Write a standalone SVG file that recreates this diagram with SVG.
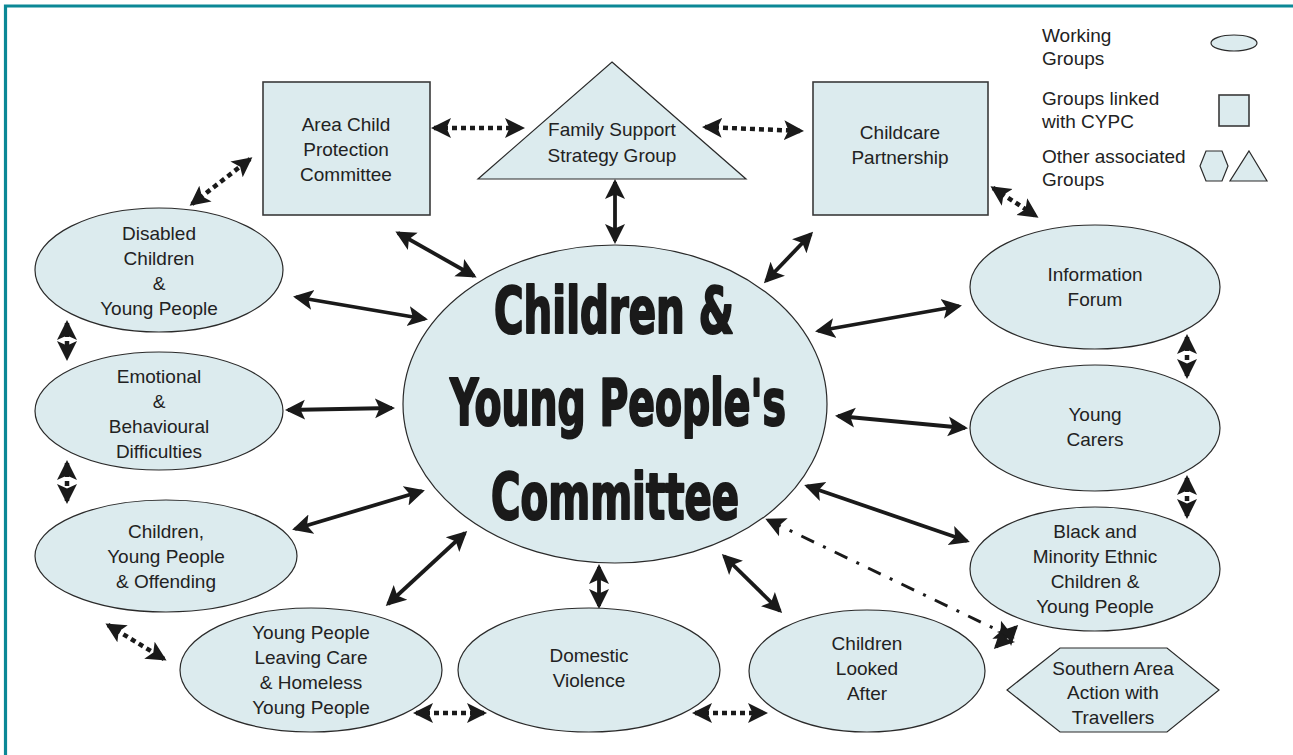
<svg xmlns="http://www.w3.org/2000/svg" width="1293" height="755" viewBox="0 0 1293 755">
  <defs>
    <style>
      .shape { fill: #dcebee; stroke: #2a2a2a; stroke-width: 1.2; }
      .box { fill: #dcebee; stroke: #3a3a3a; stroke-width: 1.6; }
      .lbl { font-family: "Liberation Sans", Arial, sans-serif; font-size: 19px; fill: #222; text-anchor: middle; dominant-baseline: central; }
      .leg { font-family: "Liberation Sans", Arial, sans-serif; font-size: 19px; fill: #222; dominant-baseline: central; }
      .title { font-family: "DejaVu Sans Condensed", "Liberation Sans Narrow", "Liberation Sans", sans-serif; font-weight: bold; font-size: 64px; fill: #1a1a1a; stroke: #1a1a1a; stroke-width: 2.2; stroke-linejoin: round; text-anchor: middle; }
      .solid { stroke: #1a1a1a; stroke-width: 3.8; fill: none; marker-start: url(#head); marker-end: url(#head); }
      .dotted { stroke: #1a1a1a; stroke-width: 4.5; stroke-dasharray: 5 4; fill: none; marker-start: url(#head); marker-end: url(#head); }
      .dashdot { stroke: #1a1a1a; stroke-width: 3; stroke-dasharray: 14 10 3 10; fill: none; marker-start: url(#head); marker-end: url(#head); }
    </style>
    <marker id="head" markerUnits="userSpaceOnUse" viewBox="0 0 21 22" markerWidth="21" markerHeight="22" refX="17" refY="11" orient="auto-start-reverse">
      <path d="M0,1 L20,11 L0,21 L4.5,11 z" fill="#1a1a1a"/>
    </marker>
  </defs>

  <!-- frame -->
  <path d="M5.5,755 V6 H1293" fill="none" stroke="#0b8896" stroke-width="3.2"/>

  <!-- connectors -->
  <g id="connectors">
    <line class="solid" x1="398" y1="233" x2="474" y2="276"/>
    <line class="solid" x1="296" y1="297" x2="425" y2="319"/>
    <line class="solid" x1="615" y1="182" x2="615" y2="241"/>
    <line class="solid" x1="811" y1="234" x2="766" y2="281"/>
    <line class="solid" x1="818" y1="331" x2="959" y2="306"/>
    <line class="solid" x1="288" y1="410" x2="392" y2="408"/>
    <line class="solid" x1="838" y1="416" x2="965" y2="428"/>
    <line class="solid" x1="295" y1="529" x2="422" y2="491"/>
    <line class="solid" x1="807" y1="486" x2="967" y2="541"/>
    <line class="solid" x1="388" y1="604" x2="465" y2="533"/>
    <line class="solid" x1="599" y1="567" x2="599" y2="606"/>
    <line class="solid" x1="724" y1="556" x2="780" y2="611"/>

    <line class="dotted" x1="434" y1="128" x2="522" y2="128"/>
    <line class="dotted" x1="705" y1="127" x2="801" y2="131"/>
    <line class="dotted" x1="192" y1="204" x2="250" y2="159"/>
    <line class="dotted" x1="993" y1="188" x2="1036" y2="216"/>
    <line class="dotted" x1="67" y1="323" x2="67" y2="358"/>
    <line class="dotted" x1="67" y1="463" x2="67" y2="501"/>
    <line class="dotted" x1="1187" y1="337" x2="1187" y2="376"/>
    <line class="dotted" x1="1187" y1="478" x2="1187" y2="516"/>
    <line class="dotted" x1="108" y1="625" x2="164" y2="659"/>
    <line class="dotted" x1="416" y1="713" x2="484" y2="713"/>
    <line class="dotted" x1="695" y1="713" x2="765" y2="713"/>

    <line class="dashdot" x1="768" y1="520" x2="1012" y2="637"/>
    <line class="solid" x1="996" y1="647" x2="1016" y2="627"/>
  </g>

  <!-- central committee -->
  <g id="cypc">
    <ellipse class="shape" cx="615" cy="404" rx="212" ry="159"/>
    <text class="title" x="614" y="333" textLength="240" lengthAdjust="spacingAndGlyphs">Children &amp;</text>
    <text class="title" x="618" y="425" textLength="336" lengthAdjust="spacingAndGlyphs">Young People's</text>
    <text class="title" x="615" y="519" textLength="248" lengthAdjust="spacingAndGlyphs">Committee</text>
  </g>

  <!-- linked groups -->
  <g id="acpc">
    <rect class="box" x="263" y="82" width="167" height="133"/>
    <text class="lbl" x="346" y="124">Area Child</text>
    <text class="lbl" x="346" y="149">Protection</text>
    <text class="lbl" x="346" y="174">Committee</text>
  </g>
  <g id="childcare">
    <rect class="box" x="813" y="82" width="175" height="133"/>
    <text class="lbl" x="900" y="132">Childcare</text>
    <text class="lbl" x="900" y="157">Partnership</text>
  </g>

  <!-- associated groups -->
  <g id="family-support">
    <polygon class="shape" points="612,62 746,179 478,179"/>
    <text class="lbl" x="612" y="129">Family Support</text>
    <text class="lbl" x="612" y="155">Strategy Group</text>
  </g>
  <g id="travellers">
    <polygon class="shape" points="1060,648 1167,648 1219,690 1167,732 1060,732 1007,690"/>
    <text class="lbl" x="1113" y="668">Southern Area</text>
    <text class="lbl" x="1113" y="692">Action with</text>
    <text class="lbl" x="1113" y="717">Travellers</text>
  </g>

  <!-- working groups -->
  <g id="disabled">
    <ellipse class="shape" cx="159" cy="270" rx="124" ry="62"/>
    <text class="lbl" x="159" y="233">Disabled</text>
    <text class="lbl" x="159" y="258">Children</text>
    <text class="lbl" x="159" y="283">&amp;</text>
    <text class="lbl" x="159" y="308">Young People</text>
  </g>
  <g id="emotional">
    <ellipse class="shape" cx="159" cy="411" rx="124" ry="59"/>
    <text class="lbl" x="159" y="376">Emotional</text>
    <text class="lbl" x="159" y="401">&amp;</text>
    <text class="lbl" x="159" y="426">Behavioural</text>
    <text class="lbl" x="159" y="451">Difficulties</text>
  </g>
  <g id="offending">
    <ellipse class="shape" cx="166" cy="556" rx="131" ry="56"/>
    <text class="lbl" x="166" y="531">Children,</text>
    <text class="lbl" x="166" y="556">Young People</text>
    <text class="lbl" x="166" y="581">&amp; Offending</text>
  </g>
  <g id="leaving-care">
    <ellipse class="shape" cx="311" cy="670" rx="131" ry="62"/>
    <text class="lbl" x="311" y="632">Young People</text>
    <text class="lbl" x="311" y="657">Leaving Care</text>
    <text class="lbl" x="311" y="682">&amp; Homeless</text>
    <text class="lbl" x="311" y="707">Young People</text>
  </g>
  <g id="domestic">
    <ellipse class="shape" cx="589" cy="670" rx="131" ry="62"/>
    <text class="lbl" x="589" y="655">Domestic</text>
    <text class="lbl" x="589" y="680">Violence</text>
  </g>
  <g id="looked-after">
    <ellipse class="shape" cx="867" cy="671" rx="118" ry="61"/>
    <text class="lbl" x="867" y="643">Children</text>
    <text class="lbl" x="867" y="668">Looked</text>
    <text class="lbl" x="867" y="693">After</text>
  </g>
  <g id="information">
    <ellipse class="shape" cx="1095" cy="287" rx="125" ry="62"/>
    <text class="lbl" x="1095" y="274">Information</text>
    <text class="lbl" x="1095" y="299">Forum</text>
  </g>
  <g id="carers">
    <ellipse class="shape" cx="1095" cy="428" rx="125" ry="63"/>
    <text class="lbl" x="1095" y="414">Young</text>
    <text class="lbl" x="1095" y="439">Carers</text>
  </g>
  <g id="bme">
    <ellipse class="shape" cx="1095" cy="569" rx="125" ry="62"/>
    <text class="lbl" x="1095" y="531">Black and</text>
    <text class="lbl" x="1095" y="556">Minority Ethnic</text>
    <text class="lbl" x="1095" y="581">Children &amp;</text>
    <text class="lbl" x="1095" y="606">Young People</text>
  </g>

  <!-- key -->
  <g id="legend">
    <text class="leg" x="1042" y="35">Working</text>
    <text class="leg" x="1042" y="58">Groups</text>
    <ellipse class="shape" cx="1234" cy="43" rx="23" ry="8"/>
    <text class="leg" x="1042" y="98">Groups linked</text>
    <text class="leg" x="1042" y="121">with CYPC</text>
    <rect class="box" x="1219" y="95" width="30" height="31"/>
    <text class="leg" x="1042" y="156">Other associated</text>
    <text class="leg" x="1042" y="179">Groups</text>
    <polygon class="shape" points="1206,151 1222,151 1228,166 1222,181 1206,181 1200,166"/>
    <polygon class="shape" points="1249,151 1267,181 1230,181"/>
  </g>
</svg>
